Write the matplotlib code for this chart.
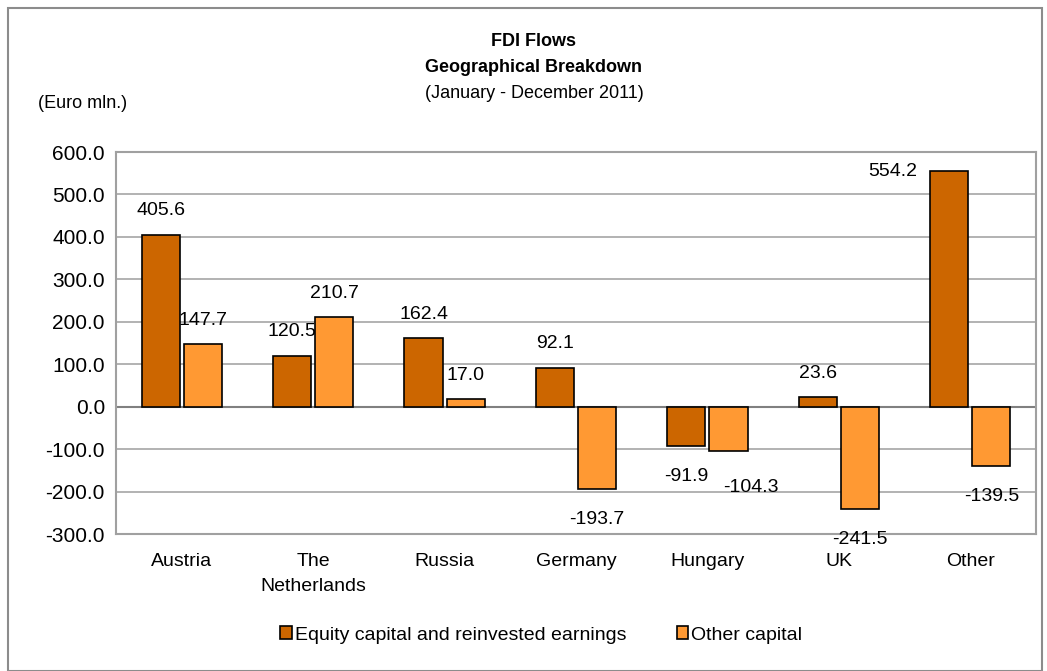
import matplotlib.pyplot as plt
import numpy as np
from matplotlib.patches import Rectangle

plt.rcParams['font.family'] = ['Liberation Sans', 'DejaVu Sans']

countries = ["Austria", "The\nNetherlands", "Russia", "Germany", "Hungary", "UK", "Other"]
equity = [405.6, 120.5, 162.4, 92.1, -91.9, 23.6, 554.2]
other = [147.7, 210.7, 17.0, -193.7, -104.3, -241.5, -139.5]
yticks = [600, 500, 400, 300, 200, 100, 0, -100, -200, -300]

dark = "#CC6600"
light = "#FF9933"

fig = plt.figure(figsize=(10.47, 6.71), dpi=100)
# outer frame
fig.patches.append(Rectangle((8 / 1047, 0.0), 1034 / 1047, 1 - 8 / 671, transform=fig.transFigure,
                             fill=False, edgecolor="#8c8c8c", linewidth=1.5))

ax = fig.add_axes([116 / 1047, 1 - 534 / 671, 920 / 1047, 382 / 671])
x = np.arange(len(countries))
w = 0.29
b1 = ax.bar(x - w / 2 - 0.015, equity, w, color=dark, edgecolor="black", linewidth=1.2, zorder=3,
            label="Equity capital and reinvested earnings")
b2 = ax.bar(x + w / 2 + 0.015, other, w, color=light, edgecolor="black", linewidth=1.2, zorder=3,
            label="Other capital")

ymin, ymax = -300, 600
for k, (bars, vals) in enumerate(((b1, equity), (b2, other))):
    for i, (r, v) in enumerate(zip(bars, vals)):
        cx = r.get_x() + r.get_width() / 2
        dx, dy, ha = 0, (17 if v >= 0 else -22), "center"
        if v + 60 > ymax:
            # no room above: put it to the left of the bar top, like Excel does
            dx, dy, ha = -23, 0, "right"
        if k == 1 and v < 0 and equity[i] < 0:
            # avoid clash with neighbouring negative label
            dx, dy = 16, -26
        ax.annotate(f"{v:.1f}", (cx, v), xytext=(dx, dy), textcoords="offset points",
                    ha=ha, va="center", fontsize=14, zorder=4)

ax.set_xlim(-0.5, len(countries) - 0.5)
ax.set_ylim(ymin, ymax)
ax.set_yticks(yticks)
ax.set_yticklabels([f"{t:.1f}" for t in yticks], fontsize=15)
ax.set_xticks(x)
ax.set_xticklabels(countries, fontsize=14, linespacing=1.55)
ax.tick_params(length=0, pad=8)
ax.tick_params(axis="x", pad=14)
ax.grid(axis="y", color="#a6a6a6", linewidth=1.2, zorder=0)
ax.axhline(0, color="#808080", linewidth=1.5, zorder=2)
for s in ax.spines.values():
    s.set_color("#a0a0a0")
    s.set_linewidth(1.5)

fig.text(0.51, 1 - 42 / 671, "FDI Flows", ha="center", va="center", fontsize=13, fontweight="bold")
fig.text(0.51, 1 - 68 / 671, "Geographical Breakdown", ha="center", va="center", fontsize=13,
         fontweight="bold")
fig.text(0.51, 1 - 93 / 671, "(January - December 2011)", ha="center", va="center", fontsize=13)
fig.text(38 / 1047, 1 - 103 / 671, "(Euro mln.)", ha="left", va="center", fontsize=13)

fig.legend(handles=[b1, b2], loc="center", bbox_to_anchor=(0.517, 1 - 635 / 671), ncol=2,
           frameon=False, fontsize=14, handlelength=0.6, handleheight=0.6, handletextpad=0.15,
           columnspacing=2.6)

fig.savefig("out.png", dpi=100)
